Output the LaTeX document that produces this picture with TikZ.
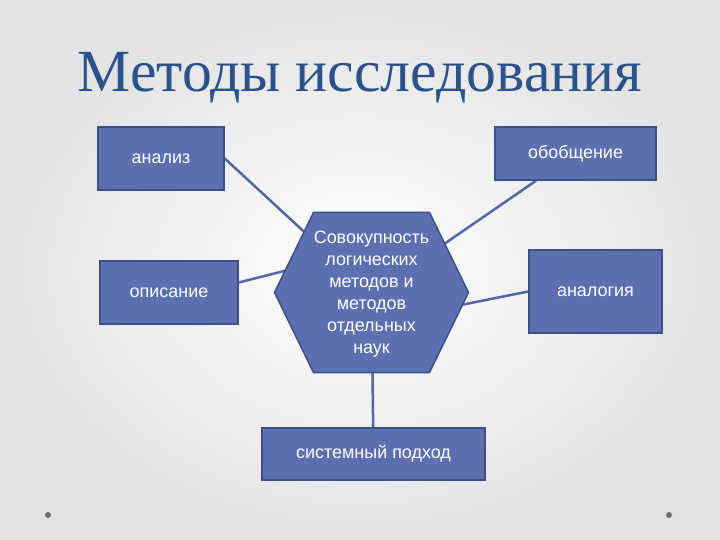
\documentclass[tikz,border=0pt]{standalone}
\usepackage{fontspec}
\setmainfont{Liberation Serif}
\newfontfamily\boxfont{Liberation Sans}
\usetikzlibrary{calc,backgrounds}
\definecolor{boxblue}{RGB}{91,111,177}
\definecolor{boxedge}{RGB}{62,78,136}
\definecolor{linkblue}{RGB}{84,102,163}
\definecolor{titleblue}{RGB}{44,82,140}
\definecolor{dotgray}{RGB}{112,112,112}
\begin{document}
\begin{tikzpicture}[x=1bp,y=-1bp,
	methodbox/.style={draw=boxedge,line width=1.5bp,fill=boxblue,text=white,inner sep=0pt,
		font=\boxfont\fontsize{18}{21}\selectfont},
	link/.style={draw=linkblue,line width=2.5bp}]
	\useasboundingbox (0,0) rectangle (720,540);
	\node[anchor=base,text=titleblue,font=\fontsize{60}{60}\selectfont] (title) at (360,92) {Методы исследования};
	\node[methodbox,minimum width=126bp,minimum height=63bp] (analiz) at (161,158.5) {анализ};
	\node[methodbox,minimum width=161bp,minimum height=53bp] (obob) at (575.5,153.5) {обобщение};
	\node[methodbox,minimum width=138bp,minimum height=63bp] (opis) at (169,292.5) {описание};
	\node[methodbox,minimum width=133bp,minimum height=83bp] (analog) at (595.5,291.5) {аналогия};
	\node[methodbox,minimum width=223bp,minimum height=52bp] (sys) at (373.5,454) {системный подход};
	\node[text=white,align=center,font=\boxfont\fontsize{18}{22}\selectfont] (hex) at (371.5,294)
		{Совокупность\\логических\\методов и\\методов\\отдельных\\наук};
	\fill[dotgray] (48,515) circle (3);
	\fill[dotgray] (669,515) circle (3);
	\begin{scope}[on background layer]
		\shade[inner color=white,outer color=black!11] (0,0) rectangle (720,540);
		\draw[link] (analiz.east) -- (hex.center);
		\draw[link] (obob) -- (hex.center);
		\draw[link] ($(opis.east)+(0,-10)$) -- ($(hex)+(-40,-35)$);
		\draw[link] (analog.west) -- ($(hex)+(29,23)$);
		\draw[link] (sys) -- (hex.center);
		\filldraw[fill=boxblue,draw=boxedge,line width=1.5bp] (371.5,292.5) +(-58,-80) -- +(58,-80)
			-- +(97,0) -- +(58,80) -- +(-58,80) -- +(-97,0) -- cycle;
	\end{scope}
\end{tikzpicture}
\end{document}
